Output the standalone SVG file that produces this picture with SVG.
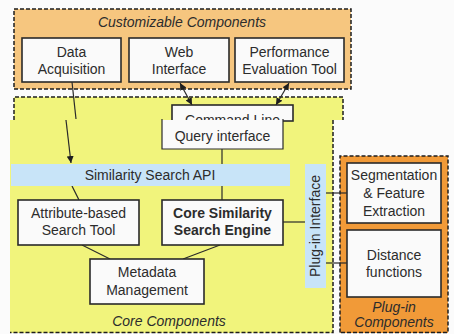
<svg xmlns="http://www.w3.org/2000/svg" width="454" height="334" viewBox="0 0 454 334">
<style>
text{font-family:"Liberation Sans",Arial,sans-serif;fill:#2c2c2c;font-size:14px;text-anchor:middle}
.box{fill:#fafafa;stroke:#2a2a2a;stroke-width:1.6}
.dash{fill:none;stroke:#1e1e1e;stroke-width:1.5;stroke-dasharray:4 2}
.it{font-style:italic}
.b{font-weight:bold}
.ln{stroke:#2a2a2a;stroke-width:1.2;fill:none}
</style>
<defs>
<marker id="ah" viewBox="0 0 10 10" refX="10" refY="5" markerWidth="7" markerHeight="7" orient="auto-start-reverse" markerUnits="userSpaceOnUse">
<path d="M0,0 L10,5 L0,10 z" fill="#1e1e1e"/>
</marker>
<clipPath id="cl"><rect x="172" y="105" width="121" height="15"/></clipPath>
</defs>
<rect width="454" height="334" fill="#fbfbfb"/>

<g id="customizable-components">
<rect x="14" y="9" width="337" height="80" fill="#f6c67f"/>
<rect x="14" y="9" width="337" height="80" class="dash"/>
<text x="182" y="27" class="it">Customizable Components</text>
</g>

<g id="core-components">
<rect x="14" y="97" width="329" height="23" fill="#f1f47c"/>
<path d="M14,120 V97 H343 V120" class="dash"/>
<rect x="10" y="120" width="323" height="213" fill="#f1f47c"/>
<path d="M333,120 V332.5 H10" class="dash"/>
<text x="169" y="326" class="it">Core Components</text>
</g>

<g id="plugin-components">
<rect x="340" y="156" width="108" height="177" fill="#f19a38"/>
<path d="M340,332.5 V156 H448 V332.5 H340" class="dash"/>
<text x="394" y="312" class="it">Plug-in</text>
<text x="394" y="327" class="it">Components</text>
</g>

<g id="connectors">
<line x1="180" y1="83" x2="192" y2="105" class="ln" marker-start="url(#ah)" marker-end="url(#ah)"/>
<line x1="289" y1="83" x2="276" y2="105" class="ln" marker-start="url(#ah)" marker-end="url(#ah)"/>
<line x1="72" y1="82" x2="76" y2="119" class="ln"/>
<line x1="66" y1="120" x2="71" y2="163" class="ln" marker-end="url(#ah)"/>
<line x1="222" y1="149" x2="222" y2="200" class="ln"/>
<line x1="72" y1="186" x2="79" y2="200" class="ln"/>
<line x1="82" y1="245" x2="110" y2="259" class="ln"/>
<line x1="220" y1="245" x2="183" y2="259" class="ln"/>
<line x1="283" y1="222" x2="305" y2="222" class="ln"/>
<line x1="325" y1="193" x2="347" y2="193" class="ln"/>
<line x1="325" y1="263" x2="347" y2="263" class="ln"/>
</g>

<g id="data-acquisition">
<rect x="22" y="38" width="99" height="44" class="box"/>
<text x="71.5" y="57">Data</text>
<text x="71.5" y="74">Acquisition</text>
</g>
<g id="web-interface">
<rect x="129" y="38" width="100" height="44" class="box"/>
<text x="179" y="57">Web</text>
<text x="179" y="74">Interface</text>
</g>
<g id="performance-evaluation-tool">
<rect x="235" y="38" width="109" height="44" class="box"/>
<text x="289.5" y="57">Performance</text>
<text x="289.5" y="74">Evaluation Tool</text>
</g>

<g id="command-line-query-interface">
<rect x="172" y="105" width="121" height="16" class="box"/>
<text x="232.5" y="125" clip-path="url(#cl)">Command Line</text>
<rect x="162" y="120" width="121" height="29" fill="#fafafa"/>
<path d="M162,119 V149 H283 V119" class="ln" stroke-width="1.6"/>
<text x="222.5" y="141">Query interface</text>
</g>

<g id="similarity-search-api">
<rect x="11" y="164" width="279" height="22" fill="#c8e4f8"/>
<text x="150" y="180" font-size="13">Similarity Search API</text>
</g>

<g id="plugin-interface">
<rect x="305" y="164" width="21" height="124" fill="#c8e4f8"/>
<text transform="translate(320,226) rotate(-90)" font-size="13.5">Plug-in Interface</text>
</g>

<g id="attribute-based-search-tool">
<rect x="18" y="200" width="121" height="45" class="box"/>
<text x="78.5" y="218">Attribute-based</text>
<text x="78.5" y="235">Search Tool</text>
</g>
<g id="core-similarity-search-engine">
<rect x="162" y="200" width="121" height="45" class="box"/>
<text x="222.5" y="218" class="b">Core Similarity</text>
<text x="222.5" y="235" class="b">Search Engine</text>
</g>
<g id="metadata-management">
<rect x="90" y="259" width="114" height="45" class="box"/>
<text x="147" y="277">Metadata</text>
<text x="147" y="295">Management</text>
</g>

<g id="segmentation-feature-extraction">
<rect x="347" y="163" width="94" height="60" class="box"/>
<text x="394" y="180">Segmentation</text>
<text x="394" y="198">&amp; Feature</text>
<text x="394" y="216">Extraction</text>
</g>
<g id="distance-functions">
<rect x="347" y="230" width="94" height="67" class="box"/>
<text x="394" y="260">Distance</text>
<text x="394" y="277">functions</text>
</g>
</svg>
